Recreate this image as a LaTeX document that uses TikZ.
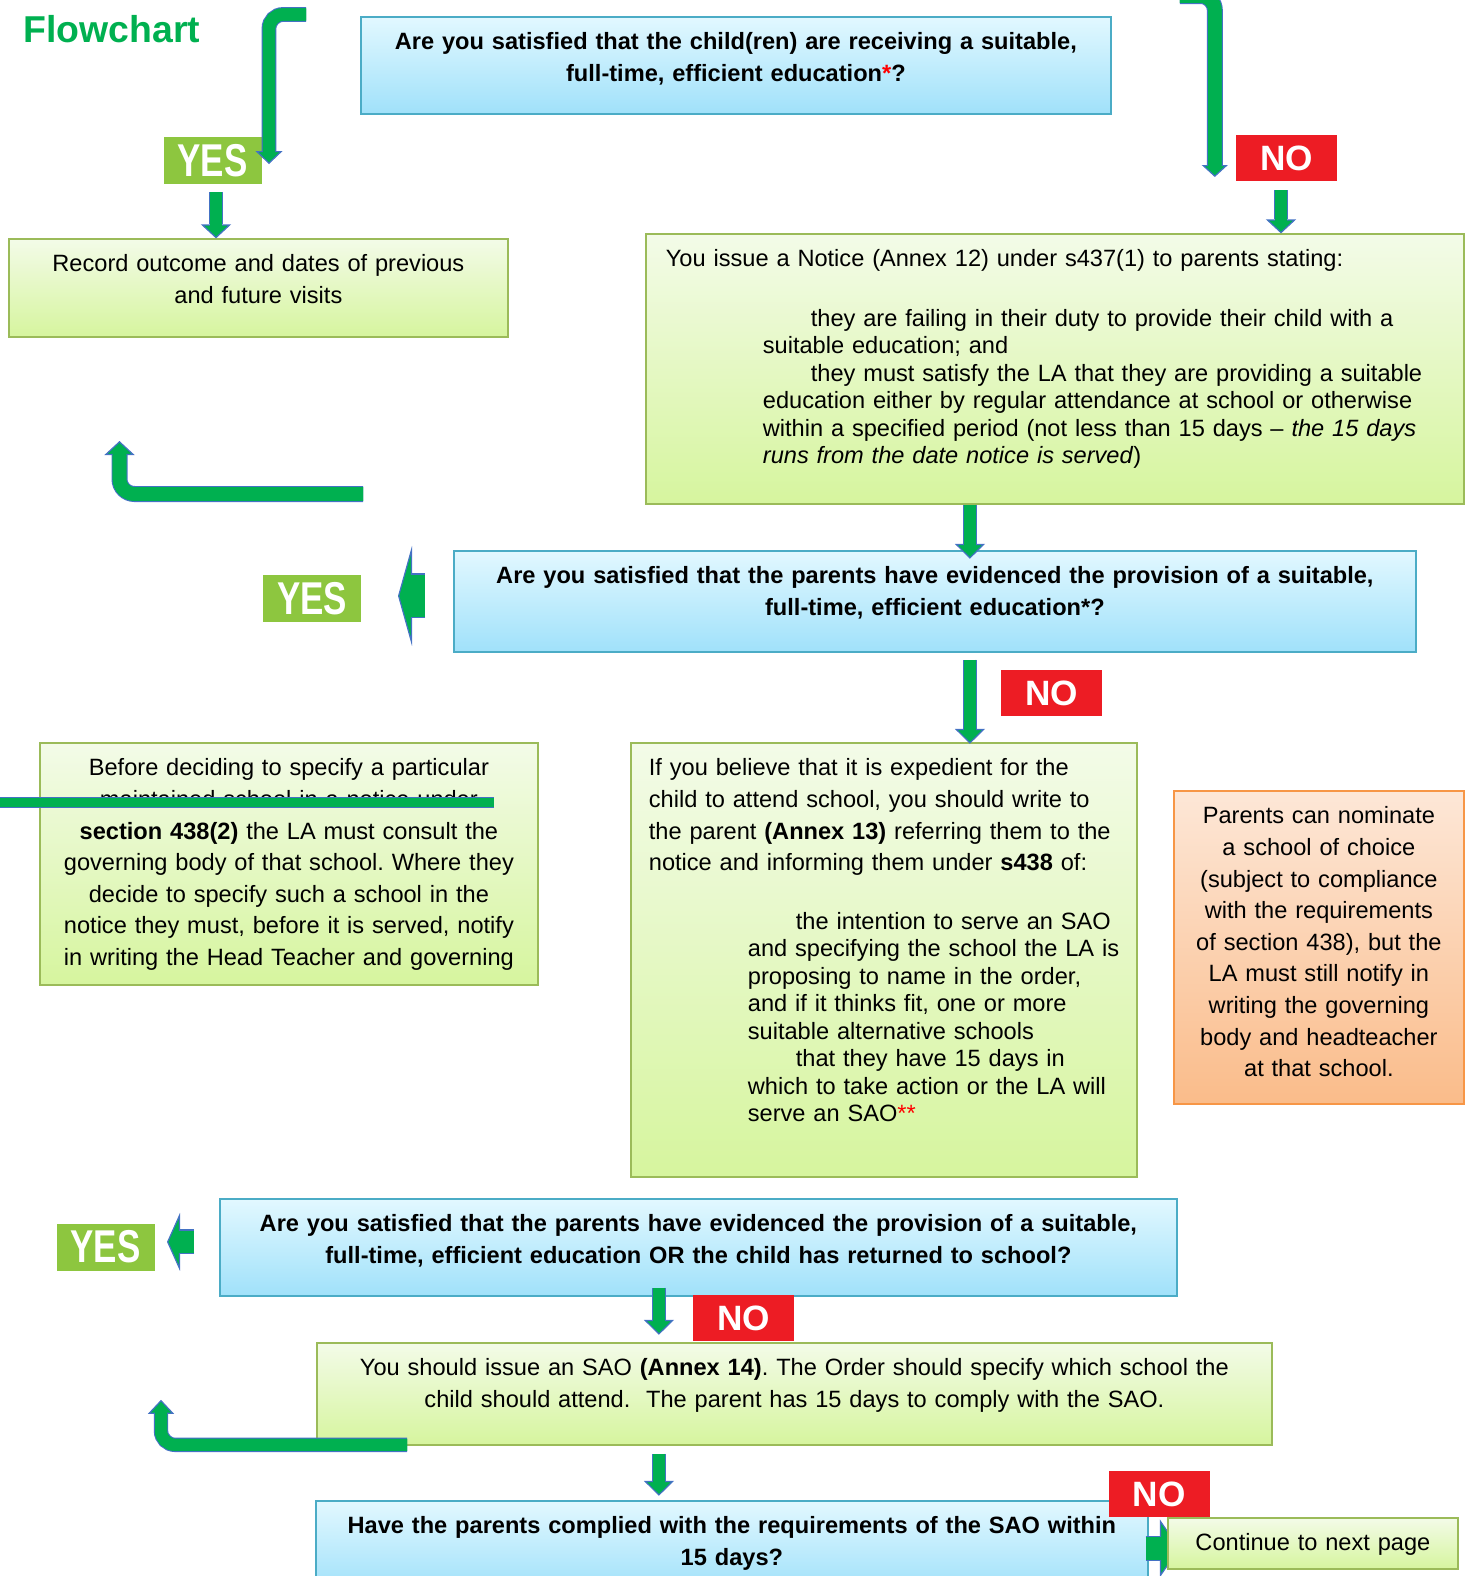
\documentclass[tikz,border=0pt]{standalone}
\usepackage{fontspec}
\setmainfont{Liberation Sans}
\usetikzlibrary{arrows.meta}

\definecolor{arrowgreen}{RGB}{0,176,80}
\definecolor{arrowblue}{RGB}{68,114,196}
\definecolor{qtop}{RGB}{226,248,255}
\definecolor{qbottom}{RGB}{160,225,250}
\definecolor{qline}{RGB}{75,172,198}
\definecolor{gtop}{RGB}{243,251,232}
\definecolor{gbottom}{RGB}{214,245,158}
\definecolor{gline}{RGB}{155,187,89}
\definecolor{otop}{RGB}{253,231,215}
\definecolor{obottom}{RGB}{250,188,138}
\definecolor{oline}{RGB}{247,150,70}
\definecolor{yesgreen}{RGB}{141,198,63}
\definecolor{nored}{RGB}{237,28,36}

\newcommand{\bodyfont}{\fontsize{11.8}{15.8}\selectfont}
\newcommand{\tightfont}{\fontsize{11.8}{13.75}\selectfont}

\begin{document}
\frenchspacing
\begin{tikzpicture}[x=0.5pt, y=-0.5pt,
  boxbase/.style={anchor=north west, inner xsep=8pt, inner ysep=0pt, line width=0.9pt,
    text height=16.5pt, font=\bodyfont, align=center},
  qbox/.style={boxbase, draw=qline, top color=qtop, bottom color=qbottom, font=\bodyfont\bfseries},
  gbox/.style={boxbase, draw=gline, top color=gtop, bottom color=gbottom},
  obox/.style={boxbase, draw=oline, top color=otop, bottom color=obottom},
  yeslabel/.style={fill=yesgreen, text=white, minimum width=49pt, minimum height=23.5pt,
    inner sep=0pt, font=\fontsize{23}{23}\selectfont\bfseries},
  nolabel/.style={fill=nored, text=white, minimum width=50.5pt, minimum height=23pt,
    inner sep=0pt, font=\fontsize{17.6}{17.6}\selectfont\bfseries},
  fatarrow/.style n args={3}{draw=arrowgreen, line width=#1pt,
    -{Triangle[length=#2pt, width=#3pt, line width=0.6pt, color=arrowblue, fill=arrowgreen]},
    preaction={draw=arrowblue, line width=#1pt+1.2pt, -, shorten >=#2pt},
    postaction={draw=arrowgreen, line width=#1pt, -, shorten >=#2pt-1pt}},
  fatline/.style={draw=arrowgreen, line width=#1pt,
    preaction={draw=arrowblue, line width=#1pt+1.2pt}}
]
\useasboundingbox (0,0) rectangle (1468,1576);

\node[font=\fontsize{18.7}{18.7}\selectfont\bfseries, text=arrowgreen, anchor=base west, inner sep=0pt] (title) at (23,42) {Flowchart};

\node[qbox, text width=359pt, text depth=32pt] (q1) at (360,16)
  {Are you satisfied that the child(ren) are receiving a suitable,\\ full-time, efficient education{\color{red}*}?};
\node[gbox, text width=233.5pt, text depth=32.5pt] (record) at (8,238)
  {Record outcome and dates of previous\\ and future visits};
\node[gbox, font=\tightfont, align=left, inner xsep=10pt, text width=389pt, text depth=118.5pt] (notice) at (645,233)
  {You issue a Notice (Annex 12) under s437(1) to parents stating:\\[16pt]
   \hspace*{72.5pt}they are failing in their duty to provide their child with a\\
   \hspace*{48.5pt}suitable education; and\\
   \hspace*{72.5pt}they must satisfy the LA that they are providing a suitable\\
   \hspace*{48.5pt}education either by regular attendance at school or otherwise\\
   \hspace*{48.5pt}within a specified period (not less than 15 days – \textit{the 15 days}\\
   \hspace*{48.5pt}\textit{runs from the date notice is served})};
\node[qbox, text width=465pt, text depth=34pt] (q2) at (453,550)
  {Are you satisfied that the parents have evidenced the provision of a suitable,\\ full-time, efficient education*?};
\node[gbox, text width=233pt, text depth=104.5pt] (before) at (39,742)
  {Before deciding to specify a particular\\
   maintained school in a notice under\\
   \textbf{section 438(2)} the LA must consult the\\
   governing body of that school. Where they\\
   decide to specify such a school in the\\
   notice they must, before it is served, notify\\
   in writing the Head Teacher and governing};
\node[gbox, font=\tightfont, align=left, inner xsep=9pt, text width=235pt, text depth=200.5pt] (expedient) at (630,742)
  {If you believe that it is expedient for the\\[2.05pt]
   child to attend school, you should write to\\[2.05pt]
   the parent \textbf{(Annex 13)} referring them to the\\[2.05pt]
   notice and informing them under \textbf{s438} of:\\[15.5pt]
   \hspace*{73.5pt}the intention to serve an SAO\\
   \hspace*{49.5pt}\mbox{and specifying the school the LA is}\\
   \hspace*{49.5pt}proposing to name in the order,\\
   \hspace*{49.5pt}and if it thinks fit, one or more\\
   \hspace*{49.5pt}suitable alternative schools\\
   \hspace*{73.5pt}that they have 15 days in\\
   \hspace*{49.5pt}which to take action or the LA will\\
   \hspace*{49.5pt}serve an SAO{\color{red}**}};
\node[obox, text width=129pt, text depth=140pt] (nominate) at (1173,790)
  {Parents can nominate\\ a school of choice\\ (subject to compliance\\ with the requirements\\
   of section 438), but the\\ LA must still notify in\\ writing the governing\\ body and headteacher\\ at that school.};
\node[qbox, text width=462.5pt, text depth=32pt] (q3) at (219,1198)
  {Are you satisfied that the parents have evidenced the provision of a suitable,\\ full-time, efficient education OR the child has returned to school?};
\node[gbox, text width=461.5pt, text depth=34.5pt] (sao) at (316,1342)
  {You should issue an SAO \textbf{(Annex 14)}. The Order should specify which school the\\ child should attend.\ \ The parent has 15 days to comply with the SAO.};
\node[qbox, text width=400pt, text depth=28.5pt] (q4) at (315,1500)
  {Have the parents complied with the requirements of the SAO within\\ 15 days?};

\node[yeslabel] (yes1) at (212.5,160.5) {\scalebox{0.76}[1]{YES}};
\node[nolabel] (no1) at (1286.5,158) {NO};
\node[yeslabel] (yes2) at (312,598.5) {\scalebox{0.76}[1]{YES}};
\node[nolabel] (no2) at (1051.5,693) {NO};
\node[yeslabel] (yes3) at (105.5,1247) {\scalebox{0.76}[1]{YES}};
\node[nolabel] (no3) at (743.5,1318) {NO};
\node[nolabel] (no4) at (1159,1494) {NO};

\draw[fatarrow={6.2}{6.5}{13.5}, rounded corners=7pt] ([shift={(-27pt,0.75pt)}]q1.north west) -- ++(-37,0) -- ++(0,149.5);
\draw[fatarrow={6.8}{6}{13}, rounded corners=7pt] ([shift={(34pt,10pt)}]q1.north east) -- ++(35,0) -- ++(0,181);
\draw[fatarrow={6}{7}{15}] ([shift={(1.75pt,-4pt)}]yes1.south) -- ++(0,46);
\draw[fatarrow={6}{7}{15}] ([shift={(-2.75pt,-4.5pt)}]no1.south) -- ++(0,43);
\draw[fatarrow={6}{7.5}{15}] ([xshift=-42.5pt]notice.south) -- ++(0,54);
\draw[fatarrow={6.8}{7}{15}, rounded corners=7.5pt] ([shift={(-45pt,28pt)}]q2.north west) -- ++(-243.5,0) -- ++(0,-53);
\draw[fatarrow={21.3}{7}{50}] ([shift={(-14pt,2.75pt)}]q2.west) -- ++(-27,0);
\draw[fatarrow={6}{7.5}{15}] ([shift={(17.5pt,-3.5pt)}]q2.south) -- ++(0,84);
\draw[fatline=4.5] ([shift={(-19.5pt,-30.25pt)}]before.north west) -- ++(494,0);
\draw[fatarrow={11.3}{6.5}{29}] ([shift={(-12.5pt,2.75pt)}]q3.west) -- ++(-27,0);
\draw[fatarrow={6}{7.5}{15}] ([shift={(-19.75pt,4.5pt)}]q3.south) -- ++(0,47);
\draw[fatarrow={6}{7.5}{15}] ([shift={(-67.75pt,-4pt)}]sao.south) -- ++(0,42);
\draw[fatarrow={6}{7}{13}, rounded corners=7pt] ([shift={(45.5pt,0.5pt)}]sao.south west) -- ++(-246,0) -- ++(0,-45);
\draw[fatarrow={11.3}{10}{29}] ([shift={(-1.5pt,-1.25pt)}]q4.east) -- ++(34,0);

\node[gbox, text width=129pt, text depth=9pt] (next) at (1167,1517) {Continue to next page};
\end{tikzpicture}
\end{document}
